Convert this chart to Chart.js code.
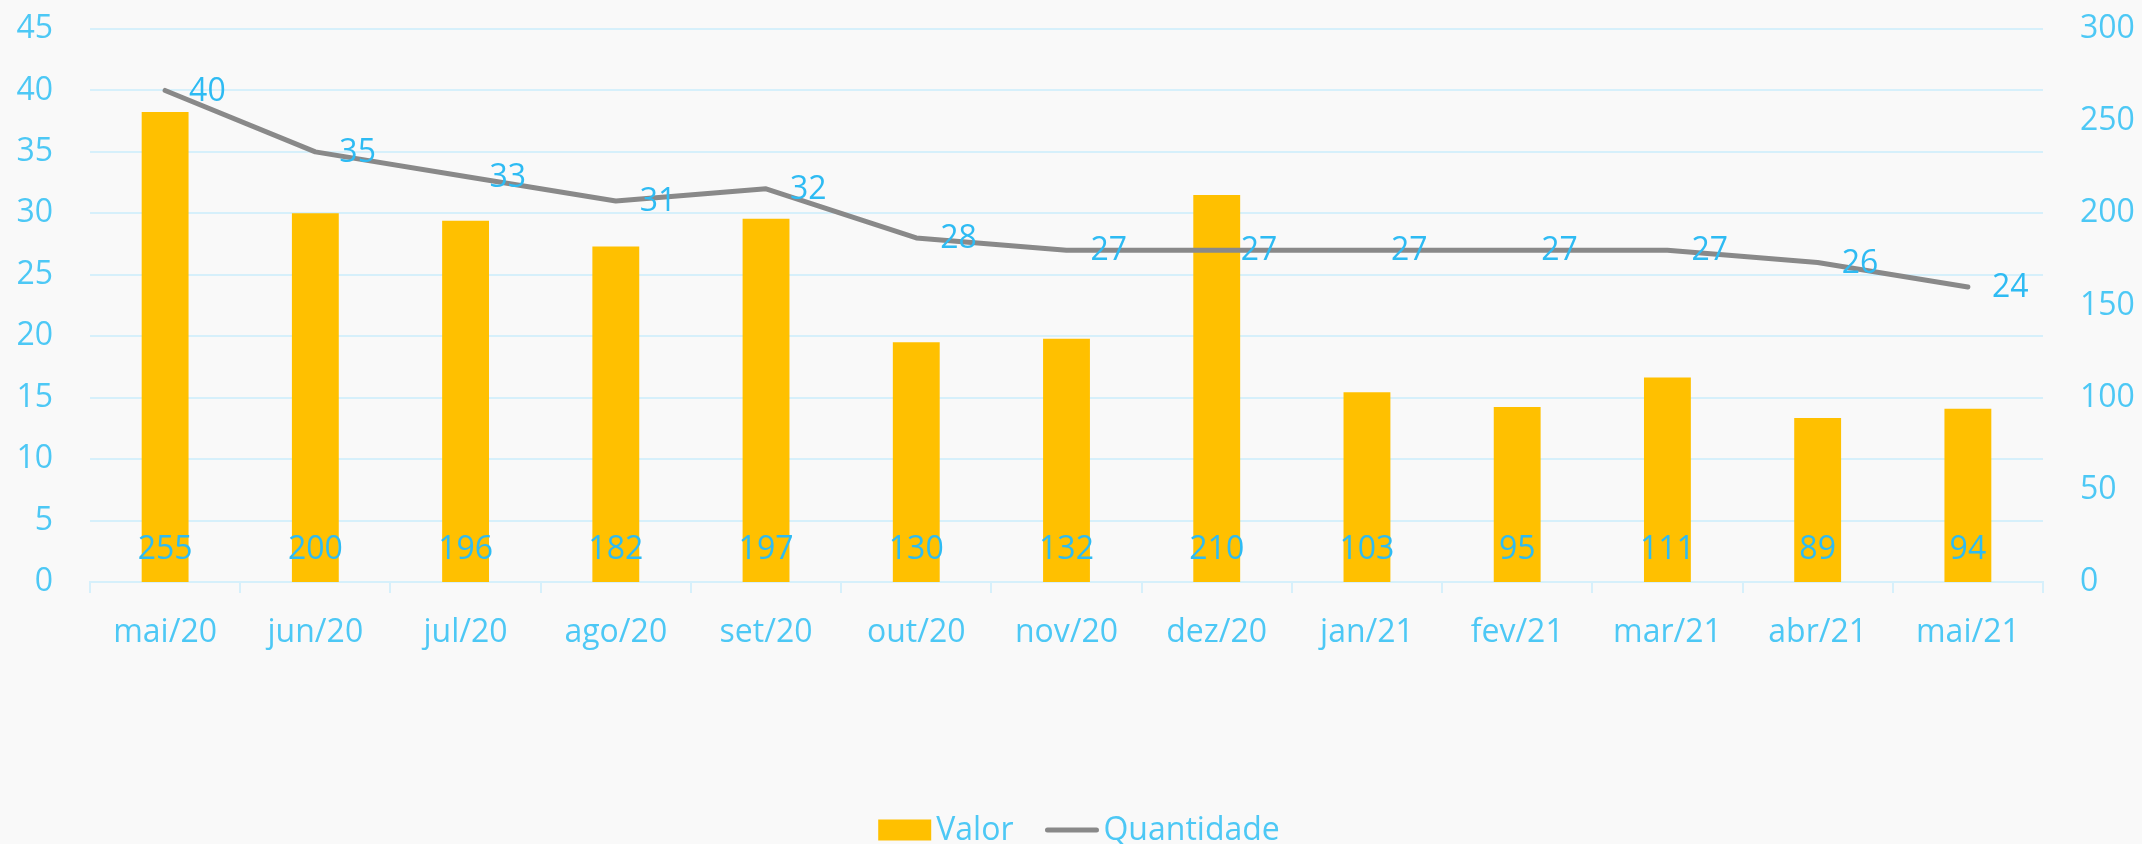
<!DOCTYPE html>
<html>
<head>
<meta charset="utf-8">
<script src="https://cdn.jsdelivr.net/npm/chart.js@4.4.1/dist/chart.umd.min.js"></script>
<style>
  html, body { margin: 0; padding: 0; background: #F9F9F9; }
  #wrap { width: 2142px; height: 844px; position: relative; }
</style>
</head>
<body>
<div id="wrap"><canvas id="c"></canvas></div>
<script>
const categories = ['mai/20','jun/20','jul/20','ago/20','set/20','out/20','nov/20','dez/20','jan/21','fev/21','mar/21','abr/21','mai/21'];
const valor = [255, 200, 196, 182, 197, 130, 132, 210, 103, 95, 111, 89, 94];
const quantidade = [40, 35, 33, 31, 32, 28, 27, 27, 27, 27, 27, 26, 24];
const leftTicks = [0, 45, 5];
const rightTicks = [0, 300, 50];

const BLUE = '#4DC8F5';
const LABEL_BLUE = '#2EBBF3';
const GRID = '#D6F0FB';
const FONT = "'Open Sans', 'Noto Sans', sans-serif";

const labelsPlugin = {
  id: 'valueLabels',
  afterDatasetsDraw(chart) {
    const ctx = chart.ctx;
    ctx.save();
    ctx.font = `32px ${FONT}`;
    ctx.fillStyle = LABEL_BLUE;
    ctx.textBaseline = 'middle';
    const barMeta = chart.getDatasetMeta(0);
    const base = chart.scales.y1.getPixelForValue(0);
    ctx.textAlign = 'center';
    barMeta.data.forEach((el, i) => {
      ctx.fillText(String(chart.data.datasets[0].data[i]), el.x, base - 32);
    });
    const lineMeta = chart.getDatasetMeta(1);
    ctx.textAlign = 'left';
    lineMeta.data.forEach((el, i) => {
      ctx.fillText(String(chart.data.datasets[1].data[i]), el.x + 24, el.y + 1);
    });
    ctx.restore();
  }
};

// legend drawn from the datasets (swatch + label), centered at the bottom
const legendPlugin = {
  id: 'bottomLegend',
  afterDraw(chart) {
    const ctx = chart.ctx;
    ctx.save();
    ctx.font = `32px ${FONT}`;
    ctx.textBaseline = 'middle';
    ctx.textAlign = 'left';
    const sw = 53, gap = 5, itemGap = 32;
    const items = chart.data.datasets.map(ds => ({ ds, w: sw + gap + ctx.measureText(ds.label).width }));
    const total = items.reduce((s, it) => s + it.w, 0) + itemGap * (items.length - 1);
    let x = chart.width / 2 + 8 - total / 2;
    const y = 830;
    items.forEach(it => {
      const ds = it.ds;
      if (ds.type === 'bar') {
        ctx.fillStyle = ds.backgroundColor;
        ctx.fillRect(x, y - 10.5, sw, 21);
      } else {
        ctx.strokeStyle = ds.borderColor;
        ctx.lineWidth = ds.borderWidth;
        ctx.lineCap = 'round';
        ctx.beginPath();
        ctx.moveTo(x + 2, y);
        ctx.lineTo(x + sw - 2, y);
        ctx.stroke();
      }
      ctx.fillStyle = BLUE;
      ctx.fillText(ds.label, x + sw + gap, y + 1);
      x += it.w + itemGap;
    });
    ctx.restore();
  }
};

function fixVertical(w) {
  return function (scale) {
    scale.width = w;
    scale.paddingTop = 0;
    scale.paddingBottom = 0;
  };
}

new Chart(document.getElementById('c'), {
  data: {
    labels: categories,
    datasets: [
      {
        type: 'bar', label: 'Valor', data: valor, yAxisID: 'y1',
        backgroundColor: '#FFC000', borderWidth: 0,
        categoryPercentage: 0.8, barPercentage: 0.39, order: 2
      },
      {
        type: 'line', label: 'Quantidade', data: quantidade, yAxisID: 'y',
        borderColor: '#898989', backgroundColor: '#898989', borderWidth: 5,
        pointRadius: 0, tension: 0, borderCapStyle: 'round', borderJoinStyle: 'round', order: 1
      }
    ]
  },
  options: {
    responsive: true,
    maintainAspectRatio: false,
    animation: false,
    layout: { padding: { top: 29, bottom: 0, left: 0, right: 0 } },
    plugins: {
      tooltip: { enabled: false },
      legend: { display: false }
    },
    scales: {
      x: {
        offset: true,
        grid: { display: true, drawOnChartArea: false, offset: true, color: GRID, lineWidth: 2, tickLength: 11 },
        border: { display: true, color: GRID, width: 2 },
        ticks: { color: BLUE, font: { family: FONT, size: 32 }, padding: 21, maxRotation: 0 },
        afterFit(scale) { scale.height = 262; scale.paddingLeft = 0; scale.paddingRight = 0; }
      },
      y: {
        position: 'left',
        min: leftTicks[0], max: leftTicks[1],
        ticks: { stepSize: leftTicks[2], color: BLUE, font: { family: FONT, size: 32 }, padding: 37 },
        grid: { color: GRID, lineWidth: 2, drawTicks: false },
        border: { display: false },
        afterFit: fixVertical(90)
      },
      y1: {
        position: 'right',
        min: rightTicks[0], max: rightTicks[1],
        ticks: { stepSize: rightTicks[2], color: BLUE, font: { family: FONT, size: 32 }, padding: 37 },
        grid: { display: false, drawTicks: false },
        border: { display: false },
        afterFit: fixVertical(99)
      }
    }
  },
  plugins: [labelsPlugin, legendPlugin]
});
</script>
</body>
</html>
